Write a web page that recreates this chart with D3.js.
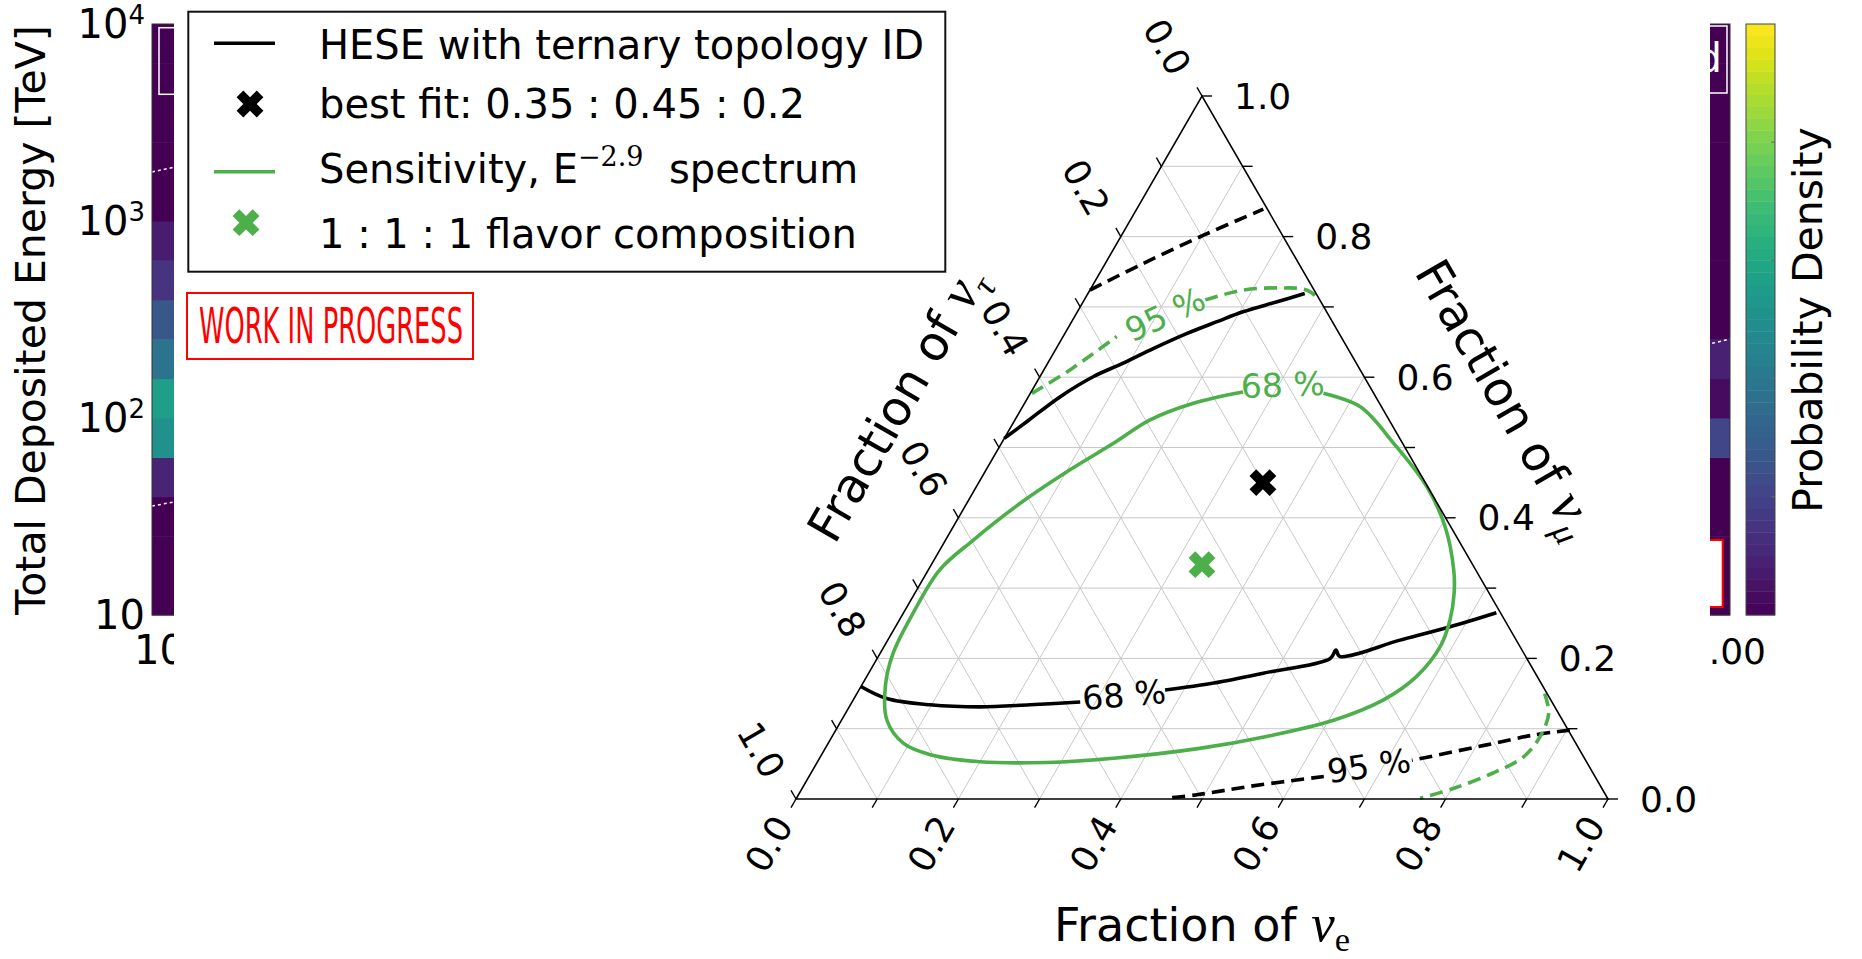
<!DOCTYPE html>
<html>
<head>
<meta charset="utf-8">
<script src="https://cdn.jsdelivr.net/npm/d3@7/dist/d3.min.js"></script>
<style>
html,body{margin:0;padding:0;background:#fff;}
svg{display:block;}
text{font-family:"DejaVu Sans",sans-serif;}
</style>
</head>
<body>
<svg id="chart" width="1862" height="959"></svg>
<script>
// ================= DATA =================
// --- underlying energy heat-map (mostly covered) ---
const logEnergyEdges = [1.0,1.2,1.4,1.6,1.8,2.0,2.2,2.4,2.6,2.8,3.0,3.2,3.4,3.6,3.8,4.0];
const leftColumnDensity  = [0.00,0.00,0.00,0.10,0.50,0.56,0.38,0.27,0.15,0.08,0.00,0.00,0.00,0.00,0.00];
const rightColumnDensity = [0.00,0.00,0.00,0.00,0.21,0.03,0.09,0.00,0.00,0.00,0.00,0.00,0.00,0.00,0.00];
const energyTickLogs = [1, 2, 3, 4];
const energyTickExponents = ["", "2", "3", "4"];
const heatmapXTicks = [0, 1];
const heatmapXTickLabels = ["10", "1.00"];
const dottedContoursHeat = [
  [[0.000,3.249],[0.030,3.300]],
  [[0.000,1.553],[0.030,1.598]],
  [[0.985,2.372],[1.000,2.401]]
];
const colorbarTickFractions = [0.2, 0.4, 0.6, 0.8];

// --- ternary plot: points are [fraction nu_e, fraction nu_mu] ---
const ternaryMajorTicks = [0.0, 0.2, 0.4, 0.6, 0.8, 1.0];
const ternaryMinorTicks = [0.0, 0.1, 0.2, 0.3, 0.4, 0.5, 0.6, 0.7, 0.8, 0.9, 1.0];
const gridLevels = [0.1, 0.2, 0.3, 0.4, 0.5, 0.6, 0.7, 0.8, 0.9];

const hese68Upper = [[0.000,0.513],[0.016,0.537],[0.039,0.572],[0.066,0.601],[0.093,0.620],[0.120,0.641],[0.150,0.662],[0.179,0.679],[0.204,0.693],[0.238,0.707],[0.267,0.719]];
const hese68Lower = [[0.000,0.160],[0.040,0.143],[0.098,0.134],[0.161,0.131],[0.221,0.134],[0.281,0.138],null,[0.377,0.155],[0.432,0.165],[0.486,0.179],[0.558,0.200],[0.559,0.212],[0.568,0.203],[0.631,0.226],[0.683,0.245],[0.730,0.265]];
const hese95Upper = [[0.000,0.724],[0.047,0.762],[0.101,0.802],[0.156,0.839]];
const hese95Lower = [[0.904,0.098],[0.863,0.091],[0.812,0.077],[0.731,0.055],null,[0.634,0.032],[0.550,0.018],[0.491,0.006],[0.462,0.002]];
const sens68 = [[0.361,0.577],[0.416,0.558],[0.483,0.506],[0.555,0.444],[0.606,0.387],[0.647,0.326],[0.664,0.293],[0.678,0.255],[0.685,0.217],[0.677,0.174],[0.653,0.141],[0.606,0.112],[0.535,0.089],[0.461,0.072],[0.362,0.058],[0.283,0.052],[0.200,0.053],[0.134,0.063],[0.093,0.079],[0.056,0.112],[0.030,0.160],[0.016,0.207],[0.012,0.264],[0.014,0.326],[0.034,0.368],[0.066,0.421],[0.103,0.468],[0.138,0.506],[0.166,0.539],[0.208,0.563],[0.261,0.579]];
const sens95Upper = [[0.002,0.577],[0.032,0.610],[0.066,0.658],null,[0.149,0.710],[0.189,0.724],[0.233,0.727],[0.267,0.724],[0.290,0.710]];
const sens95Lower = [[0.847,0.150],[0.866,0.122],[0.872,0.089],[0.866,0.060],[0.840,0.037],[0.802,0.015],[0.768,0.001]];

const bestFit = [0.35, 0.45];         // 0.35 : 0.45 : 0.2
const flavorEqual = [0.3333, 0.3333]; // 1 : 1 : 1

const contourLabelText = ["68 %", "95 %", "68 %", "95 %"];
const contourLabelPos = [[0.330,0.148],[0.682,0.047],[0.305,0.589],[0.110,0.689]];
const contourLabelRot = [-5, -8, -2, -25];
const contourLabelSeries = ["hese", "hese", "sens", "sens"];

const legendLabels = ["HESE with ternary topology ID", "best fit: 0.35 : 0.45 : 0.2", "Sensitivity, E", "1 : 1 : 1 flavor composition"];

// ================= STYLE =================
const BLACK = "#000000", GREEN = "#4daf4a", RED = "#ff0000", GRID = "#c8c8c8";
const LW = 3.6;
const svg = d3.select("#chart");

// ================= UNDERLYING PANEL =================
const heatX = d3.scaleLinear().domain([0, 1]).range([152, 1730]);
const heatY = d3.scaleLinear().domain([1, 4]).range([615, 24]);
const viridis = d3.scaleSequential(d3.interpolateViridis).domain([0, 1]);
const under = svg.append("g");

const columns = [
  {x0: 0.00, x1: 0.12, vals: leftColumnDensity},
  {x0: 0.88, x1: 1.00, vals: rightColumnDensity}
];
columns.forEach(c => {
  under.append("g").selectAll("rect").data(c.vals).join("rect")
    .attr("x", heatX(c.x0)).attr("width", heatX(c.x1) - heatX(c.x0))
    .attr("y", (d, i) => heatY(logEnergyEdges[i + 1]))
    .attr("height", (d, i) => heatY(logEnergyEdges[i]) - heatY(logEnergyEdges[i + 1]) + 0.5)
    .attr("fill", d => viridis(d));
});
under.append("g").selectAll("path").data(dottedContoursHeat).join("path")
  .attr("d", d3.line().x(d => heatX(d[0])).y(d => heatY(d[1])))
  .attr("fill", "none").attr("stroke", "#fff").attr("stroke-width", 1.5).attr("stroke-dasharray", "3,3");
under.append("rect").attr("x", 159).attr("y", 27.7).attr("width", 200).attr("height", 66.6)
  .attr("fill", "none").attr("stroke", "#fff").attr("stroke-width", 1.5);
under.append("rect").attr("x", 1500).attr("y", 26).attr("width", 227).attr("height", 67)
  .attr("fill", "none").attr("stroke", "#fff").attr("stroke-width", 1.5);
under.append("text").attr("x", 1722).attr("y", 72).attr("text-anchor", "end")
  .attr("font-size", 40).attr("fill", "#fff").text("Observed");
under.append("rect").attr("x", 1500).attr("y", 540).attr("width", 222.7).attr("height", 67)
  .attr("fill", "#fff").attr("stroke", RED).attr("stroke-width", 2);
under.append("rect").attr("x", heatX(0)).attr("y", heatY(4)).attr("width", heatX(1) - heatX(0)).attr("height", heatY(1) - heatY(4))
  .attr("fill", "none").attr("stroke", "#333").attr("stroke-width", 1);
const yTickG = under.append("g").selectAll("text").data(energyTickLogs).join("text")
  .attr("x", 145).attr("y", d => heatY(d) + 14).attr("text-anchor", "end").attr("font-size", 40);
yTickG.append("tspan").text("10");
yTickG.append("tspan").attr("font-size", 26).attr("dy", -14).text((d, i) => energyTickExponents[i]);
under.append("text").attr("x", 134).attr("y", 664).attr("font-size", 40).text(heatmapXTickLabels[0]);
under.append("text").attr("x", 1766).attr("y", 664).attr("text-anchor", "end").attr("font-size", 36).text(heatmapXTickLabels[1]);
under.append("text").attr("transform", "translate(45,320) rotate(-90)").attr("text-anchor", "middle")
  .attr("font-size", 41).text("Total Deposited Energy [TeV]");
const cbX = 1746, cbW = 29;
const cbY = d3.scaleLinear().domain([0, 1]).range([615, 24]);
const cbBands = d3.range(50);
under.append("g").selectAll("rect").data(cbBands).join("rect")
  .attr("x", cbX).attr("width", cbW)
  .attr("y", d => cbY((d + 1) / 50)).attr("height", cbY(0) - cbY(1 / 50) + 0.4)
  .attr("fill", d => viridis((d + 0.5) / 50));
under.append("rect").attr("x", cbX).attr("y", cbY(1)).attr("width", cbW).attr("height", cbY(0) - cbY(1))
  .attr("fill", "none").attr("stroke", "#444").attr("stroke-width", 1);
under.append("g").selectAll("line").data(colorbarTickFractions).join("line")
  .attr("x1", cbX + cbW - 4).attr("x2", cbX + cbW).attr("y1", d => cbY(1 - d)).attr("y2", d => cbY(1 - d))
  .attr("stroke", "#666").attr("stroke-width", 1);
under.append("text").attr("transform", "translate(1822,320) rotate(-90)").attr("text-anchor", "middle")
  .attr("font-size", 41).text("Probability Density");

// ================= OVERLAY =================
svg.append("rect").attr("x", 174).attr("y", 0).attr("width", 1710 - 174).attr("height", 959).attr("fill", "#fff");

const tx = d3.scaleLinear().domain([0, 1]).range([796, 1608]);
const ty = d3.scaleLinear().domain([0, 1]).range([799, 96]);
const P = (fe, fm) => [tx(fe + fm / 2), ty(fm)];
const tern = svg.append("g");

const gridSegs = [];
gridLevels.forEach(v => {
  gridSegs.push([P(0, v), P(1 - v, v)]);
  gridSegs.push([P(v, 0), P(v, 1 - v)]);
  gridSegs.push([P(0, 1 - v), P(1 - v, 0)]);
});
tern.append("g").selectAll("line").data(gridSegs).join("line")
  .attr("x1", d => d[0][0]).attr("y1", d => d[0][1]).attr("x2", d => d[1][0]).attr("y2", d => d[1][1])
  .attr("stroke", GRID).attr("stroke-width", 1);

const lineGen = d3.line().defined(d => d !== null)
  .x(d => tx(d[0] + d[1] / 2)).y(d => ty(d[1]))
  .curve(d3.curveCatmullRom.alpha(0.5));
const contourSeries = [
  {data: hese68Upper, color: BLACK, dash: null},
  {data: hese68Lower, color: BLACK, dash: null},
  {data: hese95Upper, color: BLACK, dash: "13,7"},
  {data: hese95Lower, color: BLACK, dash: "13,7"},
  {data: sens68, color: GREEN, dash: null},
  {data: sens95Upper, color: GREEN, dash: "13,7"},
  {data: sens95Lower, color: GREEN, dash: "13,7"}
];
tern.append("g").selectAll("path").data(contourSeries).join("path")
  .attr("d", d => lineGen(d.data)).attr("fill", "none")
  .attr("stroke", d => d.color).attr("stroke-width", LW)
  .attr("stroke-dasharray", d => d.dash);

tern.append("g").selectAll("text").data(contourLabelText).join("text")
  .attr("transform", (d, i) => { const p = P(contourLabelPos[i][0], contourLabelPos[i][1]); return `translate(${p[0]},${p[1]}) rotate(${contourLabelRot[i]})`; })
  .attr("text-anchor", "middle").attr("dominant-baseline", "central")
  .attr("font-size", 33).attr("fill", (d, i) => contourLabelSeries[i] === "hese" ? BLACK : GREEN)
  .text(d => d);

tern.append("path").attr("d", d3.line()([P(0, 0), P(1, 0), P(0, 1)]) + "Z")
  .attr("fill", "none").attr("stroke", BLACK).attr("stroke-width", 1.6);

const tickSegs = [];
ternaryMinorTicks.forEach(v => {
  const b = P(v, 0); tickSegs.push([b, [b[0] - 5, b[1] + 8.66]]);
  const r = P(1 - v, v); tickSegs.push([r, [r[0] + 10, r[1]]]);
  const l = P(0, 1 - v); tickSegs.push([l, [l[0] - 5, l[1] - 8.66]]);
});
tern.append("g").selectAll("line").data(tickSegs).join("line")
  .attr("x1", d => d[0][0]).attr("y1", d => d[0][1]).attr("x2", d => d[1][0]).attr("y2", d => d[1][1])
  .attr("stroke", BLACK).attr("stroke-width", 1.4);

const fmt = d3.format(".1f");
const tl = tern.append("g").attr("font-size", 36);
tl.selectAll("text.b").data(ternaryMajorTicks).join("text").attr("class", "b")
  .attr("transform", d => { const p = P(d, 0); return `translate(${p[0] - 27},${p[1] + 45}) rotate(-60)`; })
  .attr("text-anchor", "middle").attr("dominant-baseline", "central").text(fmt);
tl.selectAll("text.r").data(ternaryMajorTicks).join("text").attr("class", "r")
  .attr("x", d => P(1 - d, d)[0] + 32).attr("y", d => P(1 - d, d)[1])
  .attr("text-anchor", "start").attr("dominant-baseline", "central").text(fmt);
tl.selectAll("text.l").data(ternaryMajorTicks).join("text").attr("class", "l")
  .attr("transform", d => { const p = P(0, 1 - d); return `translate(${p[0] - 35},${p[1] - 49}) rotate(60)`; })
  .attr("text-anchor", "middle").attr("dominant-baseline", "central").text(fmt);

function fracTitle(sel, sub, subItalic) {
  sel.append("tspan").text("Fraction of ");
  sel.append("tspan").attr("font-family", "'Liberation Serif','DejaVu Serif',serif").attr("font-style", "italic")
    .attr("font-size", "1.15em").text("ν");
  sel.append("tspan").attr("font-family", "'Liberation Serif','DejaVu Serif',serif")
    .attr("font-style", subItalic ? "italic" : "normal").attr("font-size", "0.75em").attr("dy", "0.3em").text(sub);
}
const bl = P(0, 0), br = P(1, 0), tp = P(0, 1);
const tB = tern.append("text").attr("x", (bl[0] + br[0]) / 2).attr("y", 941).attr("text-anchor", "middle").attr("font-size", 46);
fracTitle(tB, "e", false);
const mL = [(bl[0] + tp[0]) / 2, (bl[1] + tp[1]) / 2];
const cL = [mL[0] - 110 * 0.866 - 14 * 0.5, mL[1] - 110 * 0.5 + 14 * 0.866];
const tL = tern.append("text").attr("transform", `translate(${cL[0]},${cL[1]}) rotate(-60)`)
  .attr("text-anchor", "middle").attr("dy", "0.35em").attr("font-size", 48);
fracTitle(tL, "τ", true);
const mR = [(br[0] + tp[0]) / 2, (br[1] + tp[1]) / 2];
const cR = [mR[0] + 112 * 0.866 + 8 * 0.5, mR[1] - 112 * 0.5 + 8 * 0.866];
const tR = tern.append("text").attr("transform", `translate(${cR[0]},${cR[1]}) rotate(60)`)
  .attr("text-anchor", "middle").attr("dy", "0.35em").attr("font-size", 48);
fracTitle(tR, "μ", true);

const xMarker = d3.symbol().type(d3.symbolCross).size(450);
const markerData = [{pt: bestFit, color: BLACK}, {pt: flavorEqual, color: GREEN}];
tern.append("g").selectAll("path").data(markerData).join("path")
  .attr("d", xMarker)
  .attr("transform", d => { const p = P(d.pt[0], d.pt[1]); return `translate(${p[0]},${p[1]}) rotate(45)`; })
  .attr("fill", d => d.color);

// ----- legend -----
const leg = svg.append("g");
leg.append("rect").attr("x", 188.3).attr("y", 11.7).attr("width", 757).attr("height", 260)
  .attr("fill", "#fff").attr("stroke", "#111").attr("stroke-width", 2);
const legBase = [59.3, 118.3, 183.3, 248.3];
leg.append("line").attr("x1", 214).attr("x2", 275).attr("y1", 43.3).attr("y2", 43.3).attr("stroke", BLACK).attr("stroke-width", LW);
leg.append("line").attr("x1", 214).attr("x2", 275).attr("y1", 171.7).attr("y2", 171.7).attr("stroke", GREEN).attr("stroke-width", LW);
leg.append("path").attr("d", xMarker).attr("transform", "translate(250,104) rotate(45)").attr("fill", BLACK);
leg.append("path").attr("d", xMarker).attr("transform", "translate(246,222.7) rotate(45)").attr("fill", GREEN);
legendLabels.forEach((t, i) => {
  const tt = leg.append("text").attr("x", 319).attr("y", legBase[i]).attr("font-size", 40);
  tt.append("tspan").text(t);
  if (i === 2) {
    tt.append("tspan").attr("font-family", "'DejaVu Serif','Liberation Serif',serif").attr("font-size", 27)
      .attr("dy", -17).text("−2.9");
    tt.append("tspan").attr("dy", 17).text("\u00a0 spectrum");
  }
});

// ----- WORK IN PROGRESS -----
svg.append("rect").attr("x", 187).attr("y", 293).attr("width", 286).attr("height", 66)
  .attr("fill", "#fff").attr("stroke", RED).attr("stroke-width", 2);
svg.append("text").attr("x", 199).attr("y", 343).attr("font-size", 50).attr("fill", RED)
  .attr("textLength", 264).attr("lengthAdjust", "spacingAndGlyphs").text("WORK IN PROGRESS");
</script>
</body>
</html>
